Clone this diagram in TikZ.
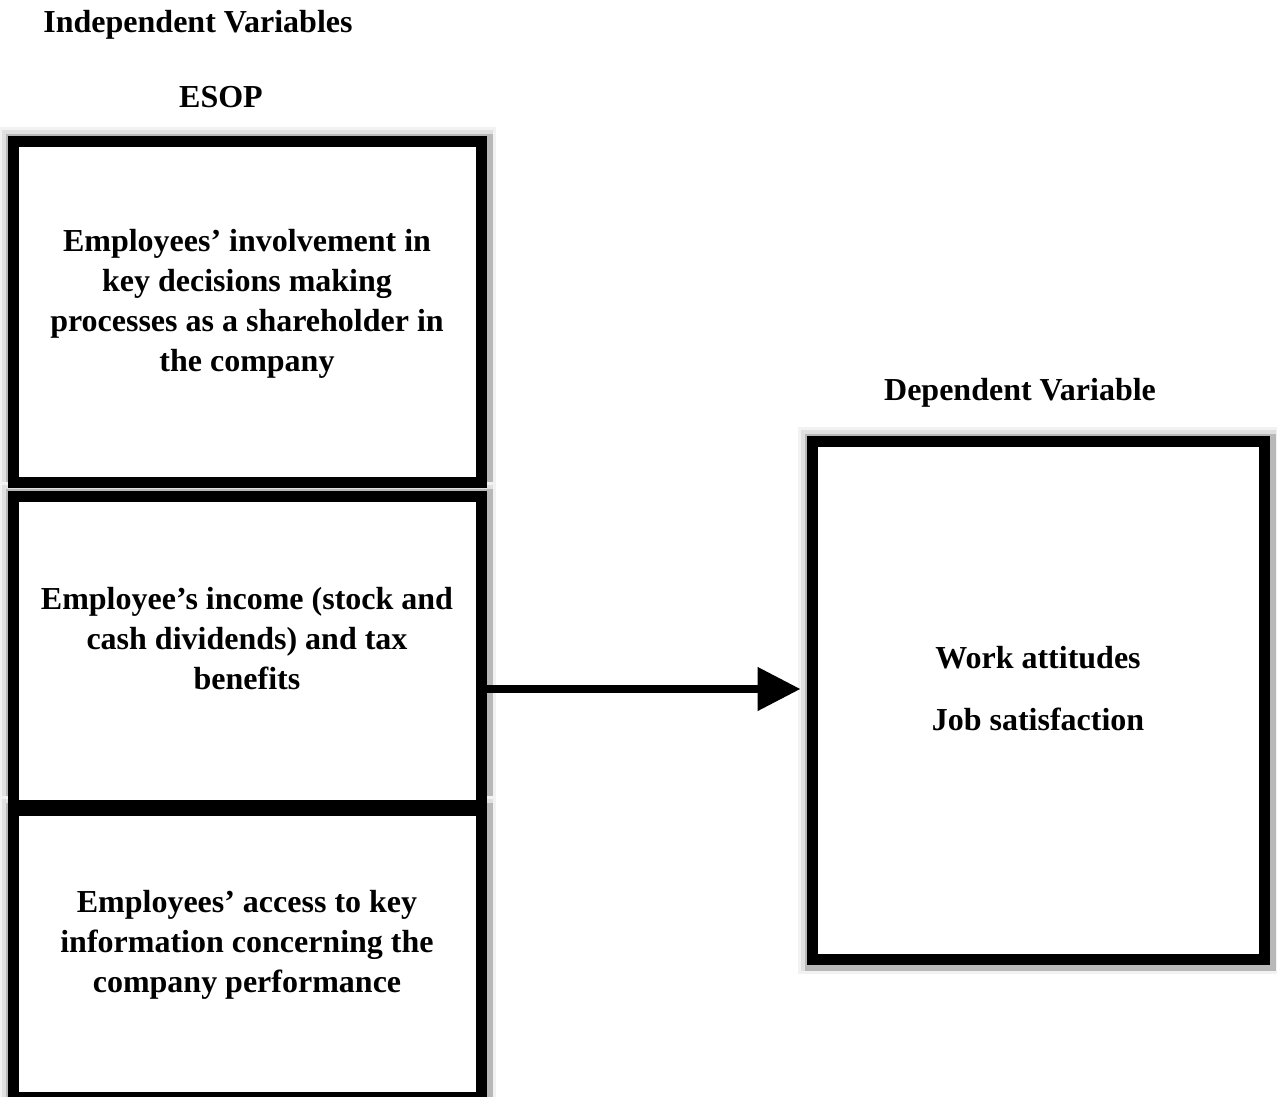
\documentclass[tikz,border=0pt]{standalone}
\usepackage{fontspec}
\setmainfont{Liberation Serif}
\usetikzlibrary{arrows.meta,positioning,backgrounds}
\tikzset{
  varbox/.style={draw=black,line width=5.5pt,fill=white,align=center,inner sep=0pt,text depth=12pt,font=\bfseries\fontsize{16}{20}\selectfont},
  head/.style={anchor=base,font=\bfseries\fontsize{16}{20}\selectfont},
  arr/.style={-{Triangle[length=21.5pt,width=21pt]},line width=4pt,shorten >=3pt},
  halo/.style={draw=black!5,line width=9pt},
  halo2/.style={draw=black!12,line width=6pt},
  shade/.style={draw=black!28,line width=4pt,transform canvas={shift={(1pt,-1pt)}}}
}

\begin{document}
\begin{tikzpicture}[x=0.5pt,y=0.5pt]
\useasboundingbox (0,0) rectangle (1277,-1096);
% headings
\node[head] (indep) at (198,-33) {Independent Variables};
\node[head] (esop) at (221,-108) {ESOP};
\node[head] (deplab) at (1020,-400) {Dependent Variable};
% independent variables
\node[varbox,minimum width=234pt,minimum height=170pt] (inv) at (247,-312)
  {Employees’ involvement in\\ key decisions making\\ processes as a shareholder in\\ the company};
\node[varbox,minimum width=234pt,minimum height=154.5pt] (inc) at (247,-650.5)
  {Employee’s income (stock and\\ cash dividends) and tax\\ benefits};
\node[varbox,minimum width=234pt,minimum height=143.5pt] (acc) at (247,-953.5)
  {Employees’ access to key\\ information concerning the\\ company performance};
% dependent variable
\node[varbox,minimum width=226pt,minimum height=259pt] (dep) at (1038,-700)
  {Work attitudes\\[11pt] Job satisfaction};
\draw[arr] ([yshift=-19.25pt]inc.east) -- ([yshift=5.5pt]dep.west);
% shadows
\begin{scope}[on background layer]
\foreach \b in {inv,inc,acc,dep}{
  \draw[halo] (\b.north west) rectangle (\b.south east);
  \draw[halo2] (\b.north west) rectangle (\b.south east);
  \draw[shade] (\b.north west) rectangle (\b.south east);
}
\end{scope}
\end{tikzpicture}
\end{document}
